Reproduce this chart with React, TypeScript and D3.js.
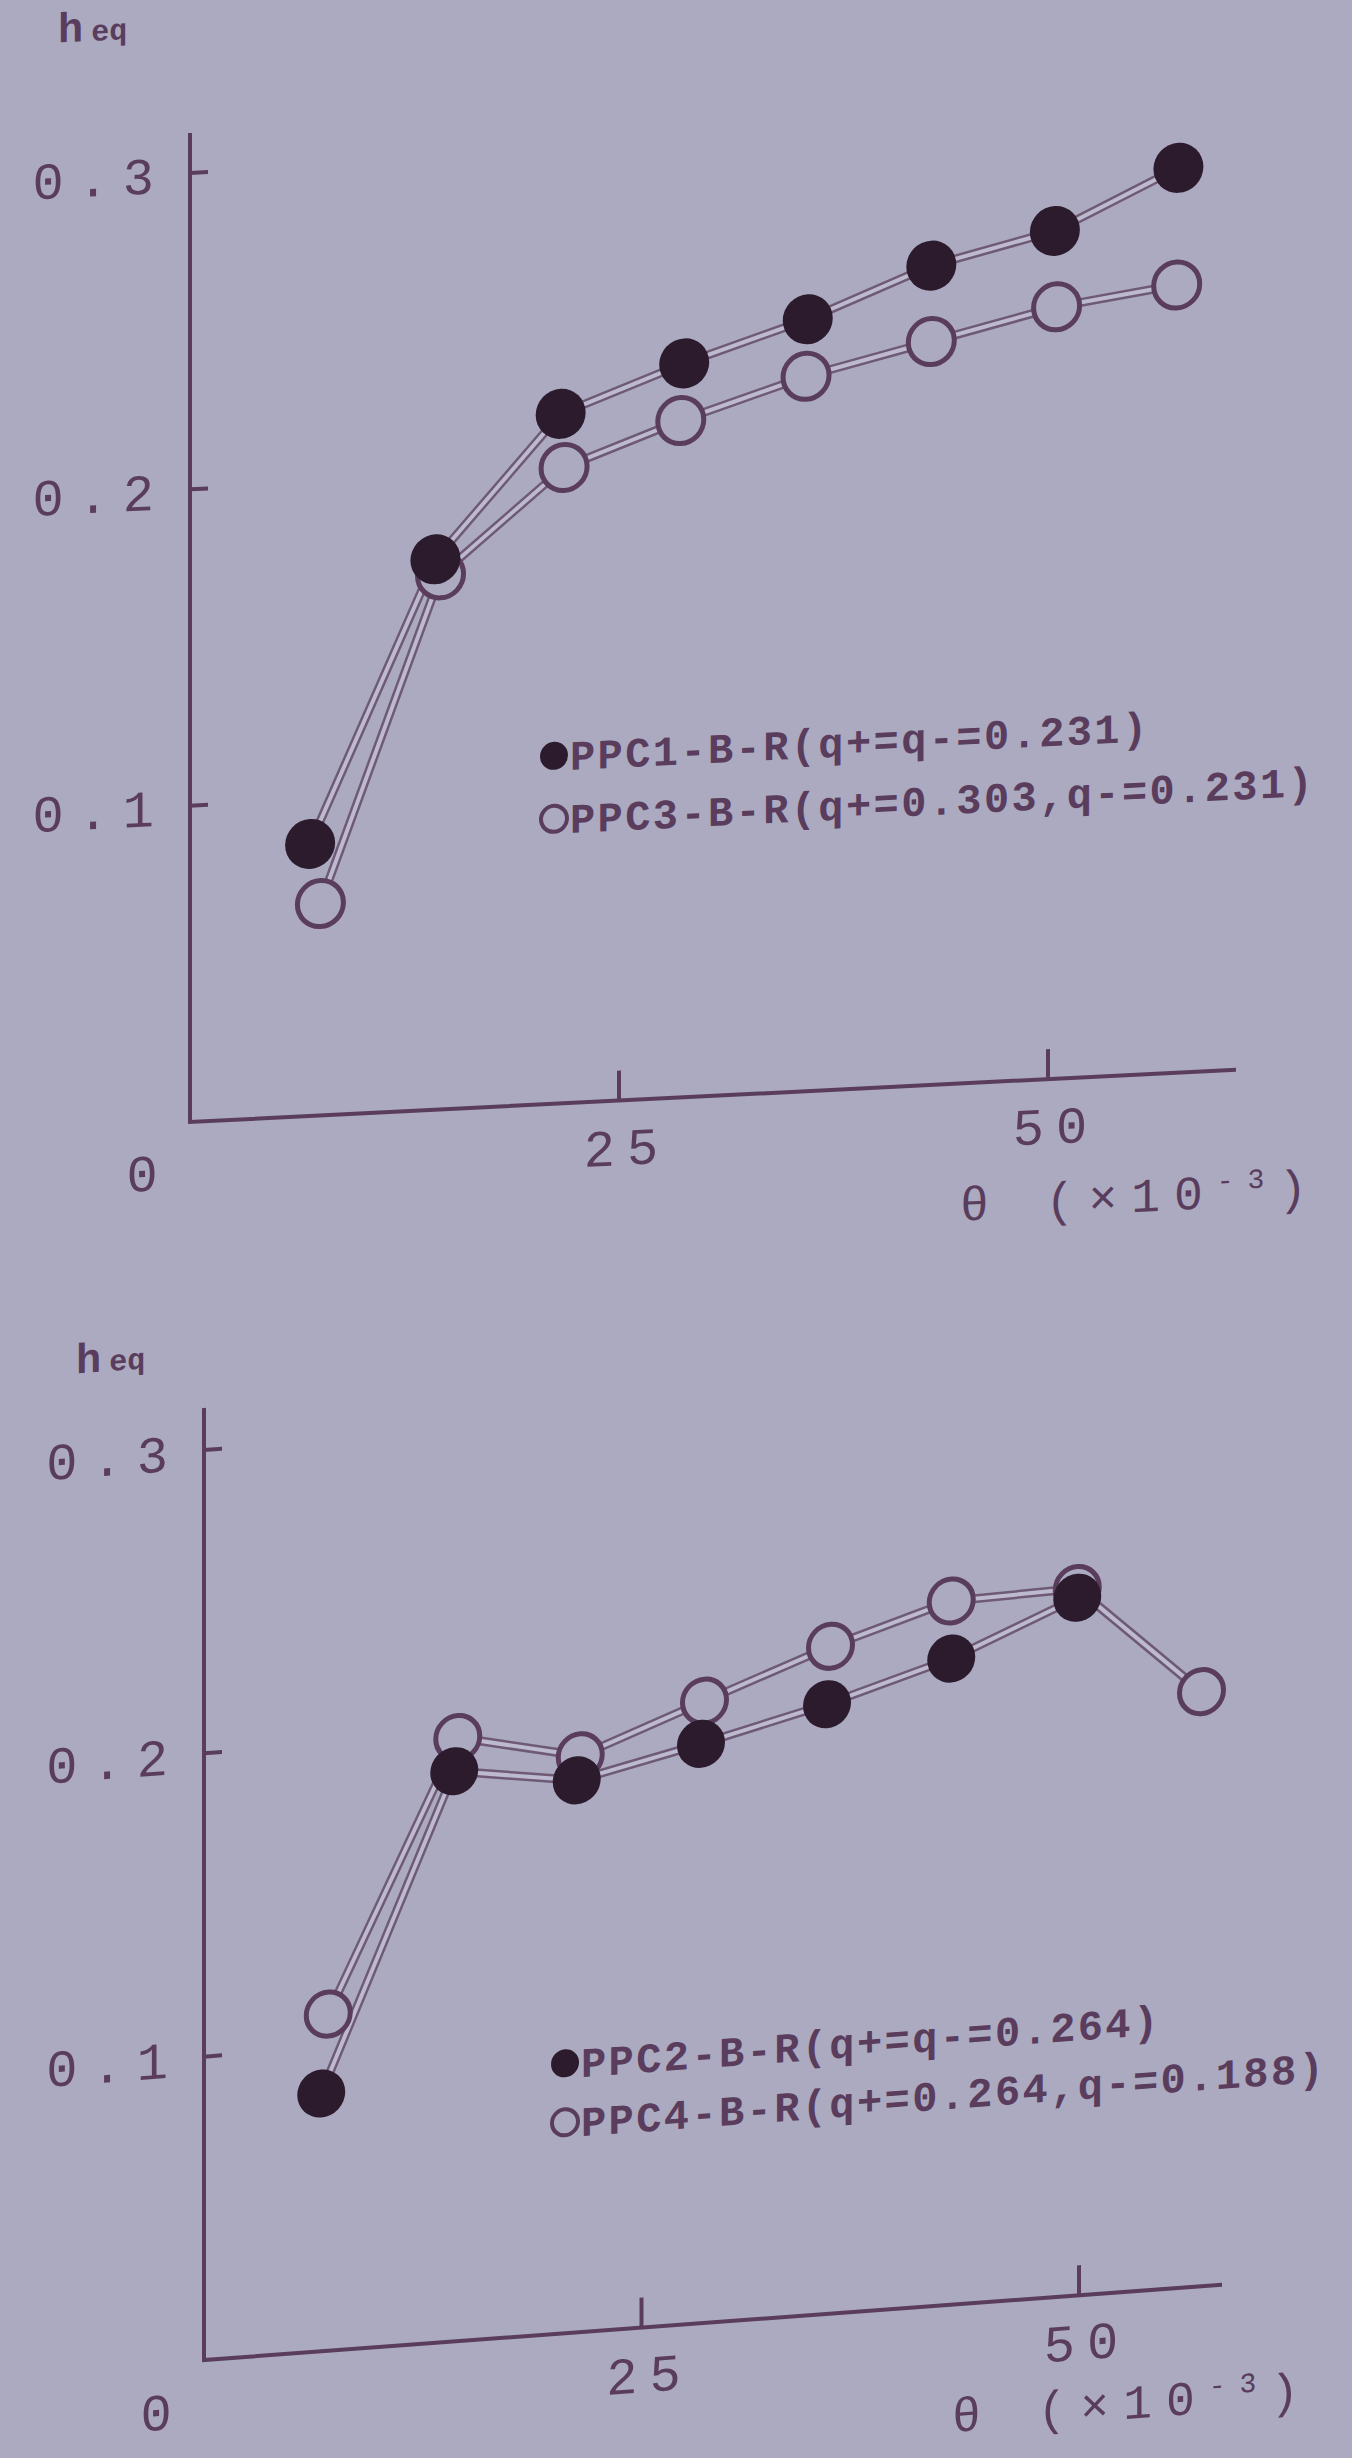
import React from "react";
import * as d3 from "d3";

// ---- data ----
const yTicks = [0.1, 0.2, 0.3];
const yTickLabels = ["0.1", "0.2", "0.3"];
const xTicks = [25, 50];
const xTickLabels = ["25", "50"];

const thetaTopFilled = [7.0, 14.3, 21.6, 28.8, 36.0, 43.2, 50.4, 57.6];
const hTopFilled = [0.086, 0.174, 0.218, 0.232, 0.244, 0.259, 0.268, 0.286];
const thetaTopOpen = [7.6, 14.6, 21.8, 28.6, 35.9, 43.2, 50.5, 57.5];
const hTopOpen = [0.067, 0.169, 0.201, 0.214, 0.226, 0.235, 0.244, 0.249];

const thetaBottomFilled = [6.7, 14.3, 21.3, 28.4, 35.6, 42.7, 49.9];
const hBottomFilled = [0.085, 0.188, 0.182, 0.191, 0.201, 0.213, 0.23];
const thetaBottomOpen = [7.1, 14.5, 21.5, 28.6, 35.8, 42.7, 49.9, 57.0];
const hBottomOpen = [0.111, 0.199, 0.19, 0.205, 0.22, 0.232, 0.233, 0.196];

const legendTop = ["PPC1-B-R(q+=q-=0.231)", "PPC3-B-R(q+=0.303,q-=0.231)"];
const legendBottom = ["PPC2-B-R(q+=q-=0.264)", "PPC4-B-R(q+=0.264,q-=0.188)"];

// ---- style ----
const BG = "#abaac0";
const INK = "#5a3c5c";
const DOT = "#2b1b2d";
const FONT = "'Liberation Mono', 'DejaVu Sans Mono', monospace";

type Cfg = {
  x0: number; x50: number; xEnd: number;
  yZero: number; yTop3: number; axisTop: number;
  slope: number;
  legendX: number; legendY: number; legendDy: number;
  hLabel: [number, number];
  thetaX: number; thetaDy: number;
  r: number;
};

const topCfg: Cfg = {
  x0: 190, x50: 1048, xEnd: 1236,
  yZero: 1122, yTop3: 173, axisTop: 133,
  slope: 0.05,
  legendX: 554, legendY: 774, legendDy: 63,
  hLabel: [58, 36],
  thetaX: 960, thetaDy: 120,
  r: 25,
};
const bottomCfg: Cfg = {
  x0: 204, x50: 1079, xEnd: 1222,
  yZero: 2360, yTop3: 1450, axisTop: 1408,
  slope: 0.074,
  legendX: 565, legendY: 2090, legendDy: 59,
  hLabel: [76, 1364],
  thetaX: 952, thetaDy: 110,
  r: 24,
};

function Panel({ cfg, tf, hf, to, ho, legend }: { cfg: Cfg; tf: number[]; hf: number[]; to: number[]; ho: number[]; legend: string[] }) {
  const x = d3.scaleLinear().domain([0, 50]).range([cfg.x0, cfg.x50]);
  const y = d3.scaleLinear().domain([0, 0.3]).range([cfg.yZero, cfg.yTop3]);
  const line = d3.line<[number, number]>().x((d) => x(d[0])).y((d) => y(d[1]));
  const filled: [number, number][] = tf.map((t, i) => [t, hf[i]]);
  const open: [number, number][] = to.map((t, i) => [t, ho[i]]);
  const ang = (Math.atan(cfg.slope) * 180) / Math.PI;
  const ox = cfg.x0, oy = cfg.yZero;
  const transform = `translate(${ox},${oy}) skewY(${-ang}) translate(${-ox},${-oy})`;
  return (
    <g transform={transform}>
      <text x={cfg.hLabel[0]} y={cfg.hLabel[1]} fill={INK} fontFamily={FONT} fontSize={42} fontWeight="bold">
        h<tspan fontSize={30} dx={8}>eq</tspan>
      </text>
      {/* axes */}
      <path d={`M${cfg.x0},${cfg.axisTop} V${cfg.yZero} H${cfg.xEnd}`} fill="none" stroke={INK} strokeWidth={4} />
      {yTicks.map((t, i) => (
        <g key={"yt" + i}>
          <line x1={cfg.x0} x2={cfg.x0 + 18} y1={y(t)} y2={y(t)} stroke={INK} strokeWidth={4} />
          <text x={cfg.x0 - 22} y={y(t)} dy="0.36em" textAnchor="end" fill={INK} fontFamily={FONT} fontSize={52} letterSpacing={14}>
            {yTickLabels[i]}
          </text>
        </g>
      ))}
      {xTicks.map((t, i) => (
        <g key={"xt" + i}>
          <line x1={x(t)} x2={x(t)} y1={cfg.yZero} y2={cfg.yZero - 30} stroke={INK} strokeWidth={4} />
          <text x={x(t) + 8} y={cfg.yZero + 46} dy="0.36em" textAnchor="middle" fill={INK} fontFamily={FONT} fontSize={52} letterSpacing={12}>
            {xTickLabels[i]}
          </text>
        </g>
      ))}
      <text x={cfg.x0 - 48} y={cfg.yZero + 48} dy="0.36em" textAnchor="middle" fill={INK} fontFamily={FONT} fontSize={52}>0</text>
      <text x={cfg.thetaX} y={cfg.yZero + cfg.thetaDy} dy="0.36em" fill={INK} fontFamily={FONT} fontSize={48} letterSpacing={14}>
        θ (×10<tspan fontSize={28} dy={-18}>-3</tspan><tspan dy={18}>)</tspan>
      </text>
      {/* lines: double-stroke look */}
      {[open, filled].map((d, i) => (
        <g key={"ln" + i}>
          <path d={line(d) || ""} fill="none" stroke="#6e5a74" strokeWidth={9} strokeLinejoin="round" />
          <path d={line(d) || ""} fill="none" stroke="#bdbad0" strokeWidth={4} strokeLinejoin="round" />
        </g>
      ))}
      {open.map((d, i) => (
        <circle key={"o" + i} cx={x(d[0])} cy={y(d[1])} r={cfg.r - 2} fill={BG} stroke={INK} strokeWidth={5} />
      ))}
      {filled.map((d, i) => (
        <circle key={"f" + i} cx={x(d[0])} cy={y(d[1])} r={cfg.r} fill={DOT} />
      ))}
      {/* legend */}
      <circle cx={cfg.legendX} cy={cfg.legendY} r={14} fill={DOT} />
      <text x={cfg.legendX + 16} y={cfg.legendY} dy="0.36em" fill={INK} fontFamily={FONT} fontSize={42} fontWeight="bold" letterSpacing={2.4}>
        {legend[0]}
      </text>
      <circle cx={cfg.legendX} cy={cfg.legendY + cfg.legendDy} r={13} fill="none" stroke={INK} strokeWidth={4} />
      <text x={cfg.legendX + 16} y={cfg.legendY + cfg.legendDy} dy="0.36em" fill={INK} fontFamily={FONT} fontSize={42} fontWeight="bold" letterSpacing={2.4}>
        {legend[1]}
      </text>
    </g>
  );
}

export default function App() {
  return (
    <div style={{ position: "absolute", left: 0, top: 0 }}>
      <svg width={1352} height={2458} style={{ display: "block" }}>
        <rect x={0} y={0} width={1352} height={2458} fill={BG} />
        <Panel cfg={topCfg} tf={thetaTopFilled} hf={hTopFilled} to={thetaTopOpen} ho={hTopOpen} legend={legendTop} />
        <Panel cfg={bottomCfg} tf={thetaBottomFilled} hf={hBottomFilled} to={thetaBottomOpen} ho={hBottomOpen} legend={legendBottom} />
      </svg>
    </div>
  );
}
